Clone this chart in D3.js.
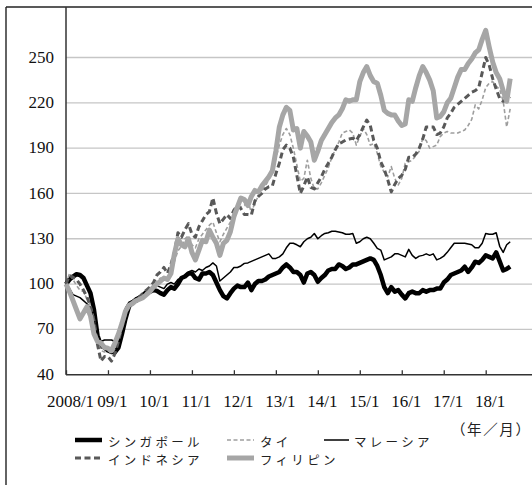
<!DOCTYPE html>
<html>
<head>
<meta charset="utf-8">
<script src="https://cdn.jsdelivr.net/npm/d3@7"></script>
<style>
  body { margin: 0; background: #fff; }
  svg { display: block; }
</style>
</head>
<body>
<svg id="chart" width="532" height="485"></svg>
<script>
// monthly index, 2008/1 .. 2018/8 (2008/1 = 100)
var singapore = [
  100, 103, 105, 106.5, 106, 104, 99, 94, 83, 66, 59, 58,
  56, 55, 55, 58, 67, 77, 85, 88, 89, 91, 92, 94,
  95, 96, 95.5, 94, 93, 96, 98, 97, 100, 104, 105, 107,
  107, 104, 103, 107, 107, 108, 106, 101, 96, 92, 90.5, 94,
  97, 99, 98, 98, 101, 96, 100, 102, 102, 103, 105, 106,
  107, 108, 111, 113, 111, 108, 108, 106, 101, 107, 108, 106,
  101.5, 104, 106, 109, 110, 110, 113, 112, 110, 111, 113, 113,
  114, 115, 116, 117, 116, 112, 106, 98, 94, 98, 95, 96,
  93, 90.5, 94, 95, 94, 94, 96, 95, 96, 96, 97, 97,
  101, 103, 106, 107, 108, 109, 111.5, 108, 111, 114.8, 114, 116,
  119, 118, 117, 121, 115, 109, 110, 111.5
];
var thai = [
  100, 107, 103, 99, 96, 95, 90, 86, 77, 62, 56, 55,
  56, 54, 57, 66, 75, 83, 87, 89, 90, 92, 93, 95,
  97, 99, 102, 104, 103, 104, 109, 115, 122, 125, 130, 132,
  126, 124, 130, 133, 136, 139, 141, 134, 128, 133, 137, 141,
  145, 150, 151, 152, 155.6, 147, 154, 158, 162, 165, 169, 175,
  183, 192, 199, 203, 199, 190, 179, 168, 170, 182, 170, 163,
  163, 167, 172, 177, 184, 189, 194, 200, 201, 202, 200, 192,
  197.6, 203, 199, 192, 193, 186.6, 178, 174, 171, 177.8, 170, 165.6,
  170, 180, 181, 182, 185, 188, 196.5, 195, 190, 191, 192, 197.6,
  200, 201, 200, 200, 200, 201, 202, 205, 209, 218.6, 216, 222,
  230, 233, 234, 231, 229, 221, 204, 216
];
var malaysia = [
  100, 97, 93, 92, 91, 89, 87, 84, 76, 66, 62, 63,
  63, 63, 62, 64, 74, 84, 88, 89, 91, 92, 94, 96,
  97, 97, 99, 98, 97, 100, 101, 100, 103, 104, 106, 108,
  109, 108, 110, 109, 111, 112, 114, 112, 102, 104, 106, 108,
  111, 111, 112, 113.7, 114, 115, 116, 117, 118, 119, 120, 117,
  117, 118, 120, 124, 127, 127, 126, 124.7, 128, 130, 131, 133.5,
  130, 132, 133.5, 134, 135, 135, 134.5, 134, 133, 133, 133.5, 127,
  128, 130, 131, 130, 127, 123.6, 122.5, 116, 117, 118, 120, 120,
  119, 118, 123, 119, 117, 118.5, 119, 120, 119, 120, 116, 117,
  118.5, 121, 124, 127, 127, 127, 127, 126.5, 126, 124, 124, 127,
  133.5, 133, 133, 134, 125, 121, 126, 128
];
var indonesia = [
  100, 105.7, 104.6, 103, 100, 96, 91.5, 85, 76, 60, 49, 52,
  52, 49, 54, 62, 72, 80, 87, 88, 90, 91.5, 94, 96,
  98, 101, 106, 108, 111, 107, 113, 121, 134, 131, 136, 140,
  133, 131, 138, 142, 146, 148, 157, 147, 140, 143, 146, 143.5,
  149, 152, 150, 146, 146, 145.7, 155, 158, 160, 163, 164.5, 165,
  173, 180, 189, 192, 190, 184, 172, 160, 165, 171, 164, 163,
  167, 171, 176, 180, 184, 189, 193, 194, 195.4, 196, 196.5, 195,
  199, 204, 208.6, 205, 195, 190, 181, 176, 169, 161, 166, 170,
  172, 176, 184, 184, 186, 190, 196, 204, 204, 204, 199, 200,
  204, 210, 213, 217, 219, 221, 223, 225, 227, 228, 230, 240,
  250, 245, 236, 229, 223, 221, 222, 224
];
var philippines = [
  100, 95, 89, 83, 77, 81, 85, 79, 67, 62, 61, 58,
  57.5, 56, 61, 67, 74, 82, 86, 87, 89, 90, 91, 93,
  95, 98, 100, 102, 104, 103, 107, 120, 130, 126, 124.7, 130,
  121, 116, 122.5, 129, 128, 135.7, 131, 127, 119, 127, 129, 134.6,
  144.6, 151, 157, 156, 152, 158, 162, 161, 165, 168, 171, 175,
  188, 204, 212, 217, 215, 202, 203, 190, 201, 198, 194, 182,
  188, 195, 199, 203, 207, 210, 212, 216, 222, 221, 222, 222,
  234, 240, 244, 238, 234, 233, 225, 215, 213, 212, 212, 208,
  205, 206, 222, 221, 230, 238, 244, 240, 235, 228, 210, 211,
  214, 220, 223, 230, 237, 242, 242, 246, 249, 253, 255, 262,
  268, 257, 247, 240, 236, 228, 221, 236
];

var yTicks = [40, 70, 100, 130, 160, 190, 220, 250];
var xTickMonths = [0, 12, 24, 36, 48, 60, 72, 84, 96, 108, 120];
var xTickLabels = ["2008/1", "09/1", "10/1", "11/1", "12/1", "13/1", "14/1", "15/1", "16/1", "17/1", "18/1"];
var seriesNames = ["シンガポール", "タイ", "マレーシア", "インドネシア", "フィリピン"];

var series = [
  {name: seriesNames[0], values: singapore,   color: "#000000", width: 4.5, dash: null},
  {name: seriesNames[1], values: thai,        color: "#9e9e9e", width: 1.6, dash: "4,2.5"},
  {name: seriesNames[2], values: malaysia,    color: "#000000", width: 1.5, dash: null},
  {name: seriesNames[3], values: indonesia,   color: "#595959", width: 3,   dash: "6,3.5"},
  {name: seriesNames[4], values: philippines, color: "#a6a6a6", width: 5,   dash: null}
];

var numFont = '"Liberation Serif", "Times New Roman", "DejaVu Serif", serif';
var jpFont = '"Noto Sans CJK JP", "Noto Sans CJK SC", sans-serif';

var svg = d3.select("#chart");
var plotLeft = 66, plotRight = 532, plotBottom = 374.7, plotTop = 7;

var x = d3.scaleLinear().domain([0, 120]).range([plotLeft, 485.7]);
var y = d3.scaleLinear().domain([40, 250]).range([plotBottom, 57.5]);

// outer frame (top and left edges are inside the picture)
svg.append("line")
  .attr("x1", 6).attr("x2", 532)
  .attr("y1", 7).attr("y2", 7)
  .attr("stroke", "#222").attr("stroke-width", 1.4);
svg.append("line")
  .attr("x1", 6).attr("x2", 6)
  .attr("y1", 7).attr("y2", 485)
  .attr("stroke", "#222").attr("stroke-width", 1.4);

// gridlines
svg.append("g")
  .selectAll("line")
  .data(yTicks.slice(1))
  .enter().append("line")
  .attr("x1", plotLeft).attr("x2", plotRight)
  .attr("y1", function(d) { return y(d); })
  .attr("y2", function(d) { return y(d); })
  .attr("stroke", "#c6c6c6")
  .attr("stroke-width", 1.3);

// y axis
var yAxis = d3.axisLeft(y).tickValues(yTicks).tickSize(0).tickPadding(12);
var gy = svg.append("g")
  .attr("transform", "translate(" + plotLeft + ",0)")
  .attr("font-family", numFont)
  .call(yAxis);
gy.select(".domain").remove();
gy.selectAll("text")
  .attr("dy", "0.27em")
  .style("font-family", numFont)
  .style("font-size", "17px")
  .style("fill", "#111");
svg.append("line")
  .attr("x1", plotLeft).attr("x2", plotLeft)
  .attr("y1", plotTop).attr("y2", plotBottom)
  .attr("stroke", "#333").attr("stroke-width", 1.5);

// x axis
var xAxis = d3.axisBottom(x)
  .tickValues(xTickMonths)
  .tickSize(-4.5)
  .tickFormat(function(d, i) { return xTickLabels[i]; });
var gx = svg.append("g")
  .attr("transform", "translate(0," + plotBottom + ")")
  .call(xAxis);
gx.select(".domain").remove();
gx.selectAll(".tick line").attr("stroke", "#333").attr("stroke-width", 1.3);
gx.selectAll("text")
  .attr("x", 4)
  .attr("y", 32)
  .attr("dy", "0")
  .style("font-family", numFont)
  .style("font-size", "17px")
  .style("fill", "#111");
svg.append("line")
  .attr("x1", plotLeft).attr("x2", plotRight)
  .attr("y1", plotBottom).attr("y2", plotBottom)
  .attr("stroke", "#333").attr("stroke-width", 1.5);

// lines
var line = d3.line()
  .x(function(d, i) { return x(i); })
  .y(function(d) { return y(d); });

svg.append("g")
  .selectAll("path")
  .data(series)
  .enter().append("path")
  .attr("d", function(s) { return line(s.values); })
  .attr("fill", "none")
  .attr("stroke", function(s) { return s.color; })
  .attr("stroke-width", function(s) { return s.width; })
  .attr("stroke-dasharray", function(s) { return s.dash; })
  .attr("stroke-linejoin", "round");

// unit label
svg.append("text")
  .attr("x", 451).attr("y", 428.5)
  .attr("dominant-baseline", "central")
  .style("font-family", jpFont)
  .style("font-size", "14.5px")
  .style("letter-spacing", "1.6px")
  .style("fill", "#222")
  .text("（年／月）");

// legend
var legendPos = [
  {x: 75,  y: 440},
  {x: 227, y: 440},
  {x: 324, y: 440},
  {x: 75,  y: 458},
  {x: 227, y: 458}
];
var legend = svg.append("g")
  .selectAll("g")
  .data(series)
  .enter().append("g")
  .attr("transform", function(s, i) { return "translate(" + legendPos[i].x + "," + legendPos[i].y + ")"; });
legend.append("line")
  .attr("x1", 0).attr("x2", function(s, i) { return i === 2 ? 25 : 27; })
  .attr("y1", 0).attr("y2", 0)
  .attr("stroke", function(s) { return s.color; })
  .attr("stroke-width", function(s) { return s.width; })
  .attr("stroke-dasharray", function(s) { return s.dash; });
legend.append("text")
  .attr("x", function(s, i) { return i === 2 ? 30 : 33; })
  .attr("y", 1)
  .attr("dominant-baseline", "central")
  .style("font-family", jpFont)
  .style("font-size", "12.5px")
  .style("letter-spacing", "3.3px")
  .style("fill", "#222")
  .text(function(s) { return s.name; });
</script>
</body>
</html>
